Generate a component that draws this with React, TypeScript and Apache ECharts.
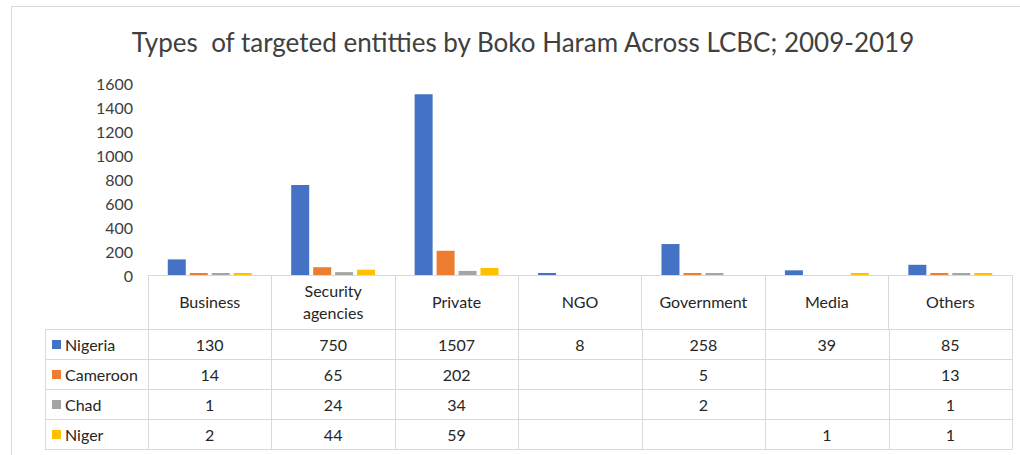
import React, { useEffect, useRef } from "react";
import * as echarts from "echarts";

const categories = ["Business", "Security agencies", "Private", "NGO", "Government", "Media", "Others"];
const seriesNames = ["Nigeria", "Cameroon", "Chad", "Niger"];
const nigeria = [130, 750, 1507, 8, 258, 39, 85];
const cameroon = [14, 65, 202, null, 5, null, 13];
const chad = [1, 24, 34, null, 2, null, 1];
const niger = [2, 44, 59, null, null, 1, 1];
const yTicks = [0, 200, 400, 600, 800, 1000, 1200, 1400, 1600];

const colors = ["#4472C4", "#ED7D31", "#A5A5A5", "#FFC000"];
const FONT = "Lato";
const TITLE = "Types  of targeted entitties by Boko Haram Across LCBC; 2009-2019";

export default function App() {
  const ref = useRef<HTMLDivElement>(null);
  useEffect(() => {
    if (!ref.current) return;
    const chart = echarts.init(ref.current, null, { renderer: "svg" });
    const seriesData = [nigeria, cameroon, chad, niger];

    const gridLeft = 148;
    const gridRightX = 1012;
    const axisY = 275;
    const headerBottom = 329;
    const rowH = 30;
    const legendLeft = 45;
    const colW = (gridRightX - gridLeft) / categories.length;
    const lineColor = "#D9D9D9";
    const tableBottom = headerBottom + rowH * seriesNames.length;

    const graphics: any[] = [];
    graphics.push({
      type: "rect",
      shape: { x: 11.5, y: 6.5, width: 1030, height: 470 },
      style: { fill: "none", stroke: lineColor, lineWidth: 1 },
      silent: true,
    });
    graphics.push({
      type: "text",
      x: 523,
      y: 42,
      style: {
        text: TITLE,
        fontFamily: FONT,
        fontSize: 26,
        fill: "#404040",
        align: "center",
        verticalAlign: "middle",
      },
      silent: true,
    });
    for (let r = 0; r <= seriesNames.length; r++) {
      const y = headerBottom + r * rowH + 0.5;
      graphics.push({
        type: "line",
        shape: { x1: legendLeft, y1: y, x2: gridRightX, y2: y },
        style: { stroke: lineColor, lineWidth: 1 },
        silent: true,
      });
    }
    const vx = [legendLeft];
    for (let c = 0; c <= categories.length; c++) vx.push(gridLeft + c * colW);
    vx.forEach((x) => {
      graphics.push({
        type: "line",
        shape: { x1: Math.round(x) + 0.5, y1: headerBottom, x2: Math.round(x) + 0.5, y2: tableBottom + 0.5 },
        style: { stroke: lineColor, lineWidth: 1 },
        silent: true,
      });
    });
    seriesNames.forEach((name, r) => {
      const cy = headerBottom + r * rowH + rowH / 2 + 0.5;
      graphics.push({
        type: "rect",
        shape: { x: 52, y: cy - 4.5, width: 9, height: 9 },
        style: { fill: colors[r] },
        silent: true,
      });
      graphics.push({
        type: "text",
        x: 65,
        y: cy,
        style: {
          text: name,
          fontFamily: FONT,
          fontSize: 16,
          fill: "#262626",
          align: "left",
          verticalAlign: "middle",
        },
        silent: true,
      });
      seriesData[r].forEach((v, c) => {
        if (v === null || v === undefined) return;
        graphics.push({
          type: "text",
          x: gridLeft + (c + 0.5) * colW,
          y: cy,
          style: {
            text: String(v),
            fontFamily: FONT,
            fontSize: 16,
            fill: "#262626",
            align: "center",
            verticalAlign: "middle",
          },
          silent: true,
        });
      });
    });

    chart.setOption({
      animation: false,
      backgroundColor: "#ffffff",
      grid: { left: gridLeft, right: 1020 - gridRightX, top: 83, bottom: 455 - axisY, containLabel: false },
      xAxis: {
        type: "category",
        data: categories,
        axisLine: { show: true, lineStyle: { color: lineColor, width: 1 } },
        axisTick: { show: true, length: headerBottom - axisY, lineStyle: { color: lineColor } },
        axisLabel: {
          interval: 0,
          margin: 26,
          verticalAlign: "middle",
          lineHeight: 22,
          fontFamily: FONT,
          fontSize: 16,
          color: "#262626",
          formatter: (v: string) => v.replace(" ", "\n"),
        },
        splitLine: { show: false },
      },
      yAxis: {
        type: "value",
        min: yTicks[0],
        max: yTicks[yTicks.length - 1],
        interval: yTicks[1] - yTicks[0],
        axisLine: { show: false },
        axisTick: { show: false },
        splitLine: { show: false },
        axisLabel: {
          fontFamily: FONT,
          fontSize: 16,
          color: "#404040",
          margin: 15,
          formatter: (v: number) => String(v),
        },
      },
      series: seriesNames.map((name, i) => ({
        name,
        type: "bar",
        data: seriesData[i],
        barWidth: 18,
        barGap: "22%",
        barMinHeight: 2,
        itemStyle: { color: colors[i] },
      })),
      graphic: graphics,
    });
    return () => chart.dispose();
  }, []);
  return <div ref={ref} style={{ position: "absolute", left: 0, top: 0, width: 1020, height: 455 }} />;
}
